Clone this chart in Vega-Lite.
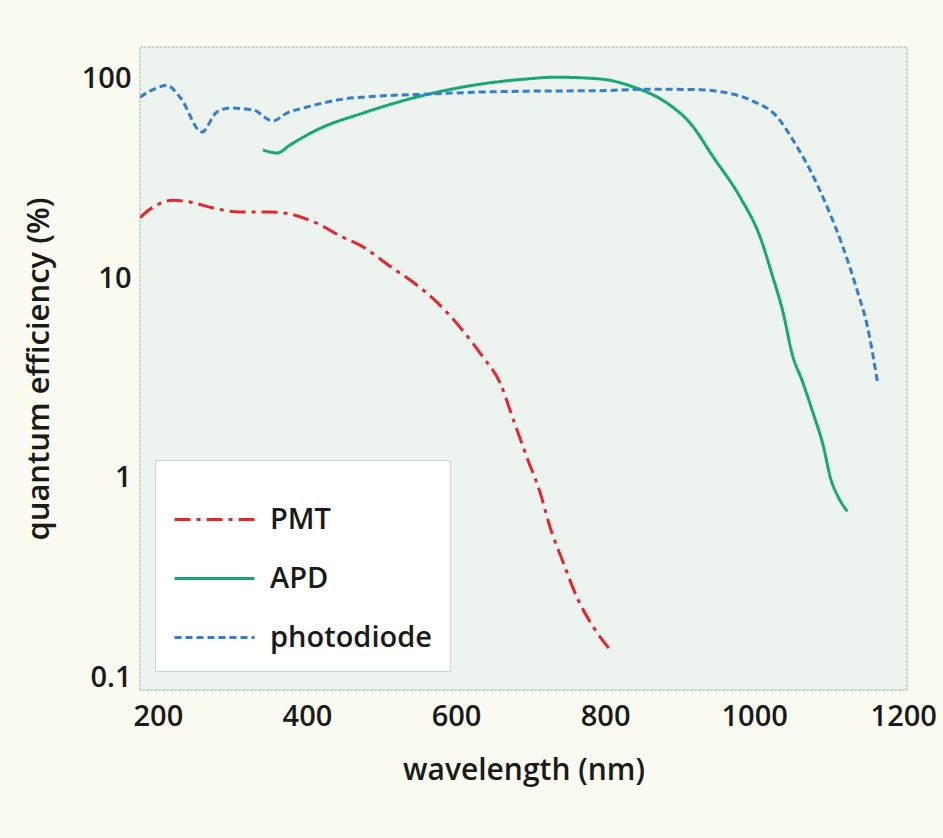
{
  "$schema": "https://vega.github.io/schema/vega-lite/v6.json",
  "width": 767,
  "height": 643,
  "autosize": {"type": "none"},
  "padding": {"left": 140, "top": 47, "right": 36, "bottom": 148},
  "background": "#fbfbf1",
  "config": {
    "font": "Open Sans",
    "view": {"fill": "#edf3ee", "stroke": "#c4dccb", "strokeWidth": 2, "strokeDash": [3, 1]}
  },
  "data": {
    "values": [
      {"det": "PMT", "wl": 176, "qe": 20.0},
      {"det": "PMT", "wl": 180, "qe": 20.7},
      {"det": "PMT", "wl": 199, "qe": 23.2},
      {"det": "PMT", "wl": 220, "qe": 24.5},
      {"det": "PMT", "wl": 243, "qe": 24.0},
      {"det": "PMT", "wl": 274, "qe": 22.4},
      {"det": "PMT", "wl": 310, "qe": 21.4},
      {"det": "PMT", "wl": 350, "qe": 21.4},
      {"det": "PMT", "wl": 377, "qe": 20.9},
      {"det": "PMT", "wl": 413, "qe": 18.8},
      {"det": "PMT", "wl": 448, "qe": 16.0},
      {"det": "PMT", "wl": 471, "qe": 14.6},
      {"det": "PMT", "wl": 515, "qe": 11.2},
      {"det": "PMT", "wl": 542, "qe": 9.55},
      {"det": "PMT", "wl": 574, "qe": 7.59},
      {"det": "PMT", "wl": 605, "qe": 5.69},
      {"det": "PMT", "wl": 636, "qe": 4.03},
      {"det": "PMT", "wl": 659, "qe": 2.99},
      {"det": "PMT", "wl": 677, "qe": 1.95},
      {"det": "PMT", "wl": 695, "qe": 1.27},
      {"det": "PMT", "wl": 713, "qe": 0.84},
      {"det": "PMT", "wl": 726, "qe": 0.569},
      {"det": "PMT", "wl": 744, "qe": 0.376},
      {"det": "PMT", "wl": 762, "qe": 0.254},
      {"det": "PMT", "wl": 784, "qe": 0.18},
      {"det": "PMT", "wl": 809, "qe": 0.135},
      {"det": "APD", "wl": 341, "qe": 43.7},
      {"det": "APD", "wl": 360, "qe": 42.2},
      {"det": "APD", "wl": 377, "qe": 46.2},
      {"det": "APD", "wl": 413, "qe": 55.0},
      {"det": "APD", "wl": 475, "qe": 66.8},
      {"det": "APD", "wl": 542, "qe": 79.4},
      {"det": "APD", "wl": 609, "qe": 90.2},
      {"det": "APD", "wl": 695, "qe": 99.0},
      {"det": "APD", "wl": 733, "qe": 101.0},
      {"det": "APD", "wl": 793, "qe": 99.0},
      {"det": "APD", "wl": 838, "qe": 90.2},
      {"det": "APD", "wl": 883, "qe": 75.0},
      {"det": "APD", "wl": 914, "qe": 59.6},
      {"det": "APD", "wl": 945, "qe": 40.3},
      {"det": "APD", "wl": 981, "qe": 25.4},
      {"det": "APD", "wl": 1008, "qe": 16.0},
      {"det": "APD", "wl": 1025, "qe": 10.1},
      {"det": "APD", "wl": 1038, "qe": 6.9},
      {"det": "APD", "wl": 1052, "qe": 4.03},
      {"det": "APD", "wl": 1064, "qe": 3.09},
      {"det": "APD", "wl": 1079, "qe": 2.11},
      {"det": "APD", "wl": 1093, "qe": 1.43},
      {"det": "APD", "wl": 1102, "qe": 1.01},
      {"det": "APD", "wl": 1113, "qe": 0.8},
      {"det": "APD", "wl": 1125, "qe": 0.68},
      {"det": "photodiode", "wl": 176, "qe": 80.4},
      {"det": "photodiode", "wl": 195, "qe": 88.0},
      {"det": "photodiode", "wl": 212, "qe": 92.0},
      {"det": "photodiode", "wl": 230, "qe": 80.0},
      {"det": "photodiode", "wl": 259, "qe": 53.7},
      {"det": "photodiode", "wl": 279, "qe": 67.6},
      {"det": "photodiode", "wl": 297, "qe": 70.8},
      {"det": "photodiode", "wl": 328, "qe": 69.2},
      {"det": "photodiode", "wl": 354, "qe": 61.0},
      {"det": "photodiode", "wl": 373, "qe": 66.8},
      {"det": "photodiode", "wl": 400, "qe": 71.6},
      {"det": "photodiode", "wl": 440, "qe": 77.6},
      {"det": "photodiode", "wl": 498, "qe": 81.3},
      {"det": "photodiode", "wl": 565, "qe": 83.2},
      {"det": "photodiode", "wl": 632, "qe": 85.1},
      {"det": "photodiode", "wl": 695, "qe": 86.0},
      {"det": "photodiode", "wl": 793, "qe": 86.5},
      {"det": "photodiode", "wl": 860, "qe": 88.0},
      {"det": "photodiode", "wl": 928, "qe": 87.5},
      {"det": "photodiode", "wl": 950, "qe": 86.0},
      {"det": "photodiode", "wl": 995, "qe": 77.6},
      {"det": "photodiode", "wl": 1031, "qe": 63.8},
      {"det": "photodiode", "wl": 1052, "qe": 49.0},
      {"det": "photodiode", "wl": 1075, "qe": 34.7},
      {"det": "photodiode", "wl": 1098, "qe": 22.6},
      {"det": "photodiode", "wl": 1119, "qe": 14.3},
      {"det": "photodiode", "wl": 1138, "qe": 8.7},
      {"det": "photodiode", "wl": 1152, "qe": 5.7},
      {"det": "photodiode", "wl": 1166, "qe": 2.92}
    ]
  },
  "mark": {"type": "line", "strokeWidth": 3, "interpolate": "monotone", "clip": true},
  "encoding": {
    "x": {
      "field": "wl",
      "type": "quantitative",
      "scale": {"domain": [176, 1205], "nice": false, "zero": false},
      "axis": {
        "values": [200, 400, 600, 800, 1000, 1200],
        "format": "d",
        "title": "wavelength (nm)",
        "grid": false, "ticks": false, "domain": false,
        "labelFontSize": 29, "labelFontWeight": 600, "labelColor": "#1a1a1a",
        "labelPadding": 12, "labelFlush": false,
        "titleFontSize": 30, "titleFontWeight": 600, "titleColor": "#1a1a1a", "titlePadding": 24
      }
    },
    "y": {
      "field": "qe",
      "type": "quantitative",
      "scale": {"type": "log", "domain": [0.087, 143], "nice": false},
      "axis": {
        "values": [0.1, 1, 10, 100],
        "format": "~g",
        "title": "quantum efficiency (%)",
        "grid": false, "ticks": false, "domain": false,
        "labelFontSize": 29, "labelFontWeight": 600, "labelColor": "#1a1a1a",
        "labelPadding": 9, "labelFlush": false,
        "titleFontSize": 31, "titleFontWeight": 600, "titleColor": "#1a1a1a", "titlePadding": 26
      }
    },
    "color": {
      "field": "det",
      "type": "nominal",
      "title": null,
      "scale": {"domain": ["PMT", "APD", "photodiode"], "range": ["#e5262c", "#17a873", "#2f7fd2"]},
      "legend": {
        "orient": "none",
        "legendX": 15,
        "legendY": 413,
        "symbolType": "stroke",
        "symbolSize": 6400,
        "symbolStrokeWidth": 3,
        "labelFontSize": 29,
        "labelFontWeight": 600,
        "labelColor": "#1a1a1a",
        "labelOffset": 14,
        "rowPadding": 2,
        "padding": 18,
        "fillColor": "#ffffff",
        "strokeColor": "#c4dccb",
        "labelLimit": 300
      }
    },
    "strokeDash": {
      "field": "det",
      "type": "nominal",
      "title": null,
      "scale": {"domain": ["PMT", "APD", "photodiode"], "range": [[16, 6, 4, 6], [1, 0], [7, 4]]}
    }
  }
}
